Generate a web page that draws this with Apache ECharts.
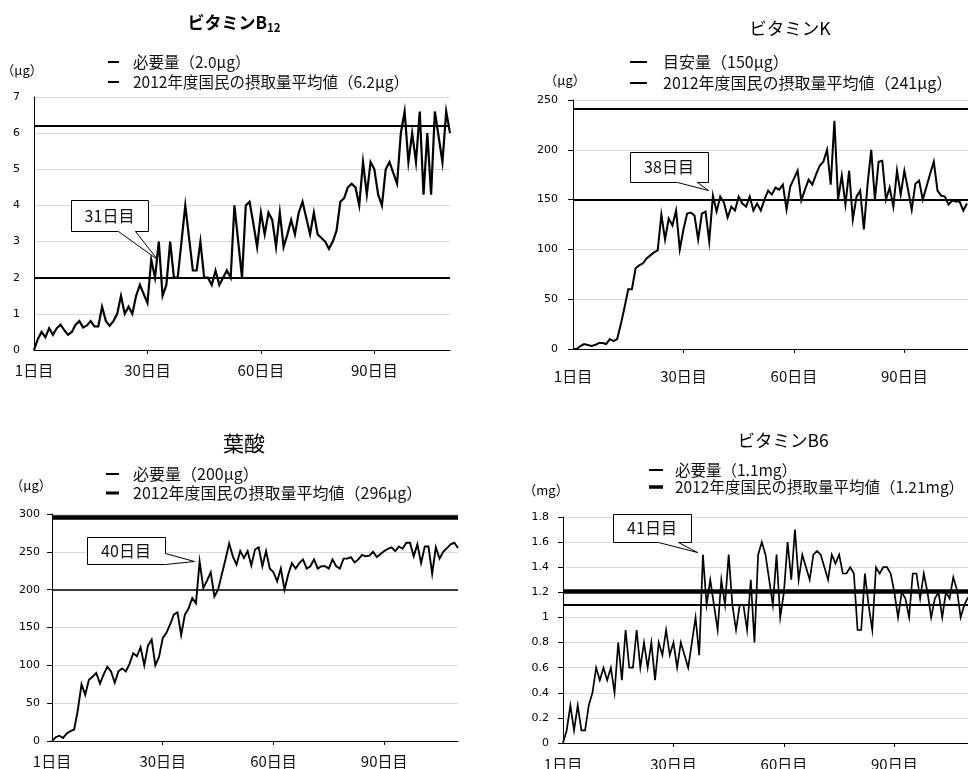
<!DOCTYPE html>
<html>
<head>
<meta charset="utf-8">
<script src="https://cdn.jsdelivr.net/npm/echarts@6/dist/echarts.min.js"></script>
<style>
html,body{margin:0;padding:0;background:#fff;overflow:hidden}
#c{width:968px;height:769px}
</style>
</head>
<body>
<div id="c"></div>
<script>
// ---------- data ----------
const dayTicks = [0, 30, 60, 90];
const dayLabels = ['1日目', '30日目', '60日目', '90日目'];

const b12Values = [0,0.3,0.5,0.35,0.6,0.42,0.6,0.7,0.55,0.42,
 0.5,0.7,0.8,0.62,0.68,0.8,0.65,0.65,1.2,0.8,
 0.67,0.8,1.0,1.5,1.0,1.2,1.0,1.5,1.8,1.55,
 1.3,2.5,2.0,3.0,1.5,1.8,3.0,2.0,2.0,3.0,
 4.0,3.1,2.2,2.2,3.0,2.0,2.0,1.8,2.2,1.8,
 2.0,2.2,2.0,4.0,3.0,2.0,4.0,4.1,3.5,2.85,
 3.8,3.2,3.8,3.6,2.85,3.8,2.85,3.2,3.6,3.2,
 3.8,4.1,3.65,3.2,3.8,3.2,3.1,3.0,2.8,3.0,
 3.3,4.1,4.2,4.5,4.6,4.5,4.0,5.2,4.3,5.2,
 5.0,4.3,4.0,5.0,5.2,4.9,4.6,6.0,6.6,5.2,
 6.0,5.2,6.6,4.3,6.0,4.3,6.6,5.9,5.2,6.6,
 6.0];
const kValues = [0,0,3,5,4,3,4,6,6,5,
 10,8,10,25,42,60,60,81,84,86,
 91,94,97,99,135,110,131,124,139,100,
 120,136,137,134,110,136,138,108,154,138,
 153,147,132,143,139,153,146,143,153,139,
 146,139,150,159,155,162,160,165,140,163,
 171,179,149,160,170,165,175,184,188,200,
 165,229,150,174,145,179,130,153,159,120,
 165,200,150,188,189,150,162,143,179,155,
 179,160,140,166,169,150,163,176,188,159,
 154,153,145,149,148,148,139,146];
const folateValues = [0,5,7,4,10,13,15,41,75,61,
 81,85,90,76,88,98,92,77,92,96,
 92,102,116,112,124,100,126,134,100,111,
 136,143,154,167,170,140,167,175,189,182,
 237,202,212,223,191,200,220,240,261,244,
 233,251,242,251,232,253,256,231,251,228,
 223,211,228,200,220,235,228,235,240,228,
 231,240,228,231,231,228,240,231,228,241,
 241,243,236,240,246,244,245,250,243,247,
 251,254,256,251,257,254,262,262,244,260,
 235,257,257,221,256,241,250,255,260,262,
 255];
const b6Values = [0,0.1,0.3,0.1,0.3,0.1,0.1,0.3,0.4,0.6,
 0.5,0.6,0.5,0.6,0.4,0.8,0.5,0.9,0.6,0.6,
 0.9,0.6,0.8,0.6,0.8,0.5,0.8,0.7,0.9,0.7,
 0.8,0.6,0.8,0.7,0.6,0.8,1.0,0.7,1.5,1.1,
 1.3,1.1,0.9,1.3,1.1,1.5,1.1,0.9,1.1,1.1,
 0.9,1.3,0.8,1.5,1.6,1.5,1.3,1.1,1.5,1.0,
 1.2,1.6,1.3,1.7,1.3,1.5,1.4,1.3,1.5,1.53,
 1.5,1.4,1.3,1.5,1.43,1.5,1.35,1.35,1.4,1.35,
 0.9,0.9,1.35,1.1,0.9,1.4,1.35,1.4,1.4,1.35,
 1.2,1.0,1.2,1.15,1.0,1.35,1.35,1.15,1.35,1.2,
 1.0,1.15,1.2,1.0,1.2,1.15,1.32,1.22,1.0,1.1,
 1.16];

const b12Range = [0, 7, 1];
const kRange = [0, 250, 50];
const folateRange = [0, 300, 50];
const b6Range = [0, 1.8, 0.2];

const b12Refs = [2.0, 6.2];
const kRefs = [150, 241];
const folateRefs = [200, 296];
const b6Refs = [1.1, 1.21];

const b12Legend = ['必要量（2.0μg）', '2012年度国民の摂取量平均値（6.2μg）'];
const kLegend = ['目安量（150μg）', '2012年度国民の摂取量平均値（241μg）'];
const folateLegend = ['必要量（200μg）', '2012年度国民の摂取量平均値（296μg）'];
const b6Legend = ['必要量（1.1mg）', '2012年度国民の摂取量平均値（1.21mg）'];

const titles = ['ビタミンB', 'ビタミンK', '葉酸', 'ビタミンB6'];
const b12Sub = '12';
const units = ['（μg）', '（μg）', '（μg）', '（mg）'];
const callouts = ['31日目', '38日目', '40日目', '41日目'];
const xMax = 110;

// ---------- layout / style ----------
const F = '"Noto Sans CJK JP", "Noto Sans", sans-serif';
const FN = '"DejaVu Sans", sans-serif';

const panels = [
  { values: b12Values, range: b12Range, refs: b12Refs, legend: b12Legend,
    grid: {left: 34, top: 97, width: 416, height: 253},
    lineWidth: 2.2, refWidths: [2, 2], xMargin: 13, yMargin: 14, yTick: false,
    title: {x: 234, y: 23, size: 17}, unit: {x: 22, y: 70},
    leg: {x1: 108, x2: 119, tx: 133, ys: [62, 82], widths: [2, 2], size: 15.5},
    call: {pts: [[71,200],[148,200],[148,231],[135,231],[157,259],[118,231],[71,231]], tx: 109.5, ty: 216} },
  { values: kValues, range: kRange, refs: kRefs, legend: kLegend,
    grid: {left: 573, top: 100, width: 405, height: 249},
    lineWidth: 2, refWidths: [2.2, 2], xMargin: 20, yMargin: 15, yTick: true,
    title: {x: 790, y: 28, size: 17.5}, unit: {x: 565, y: 80},
    leg: {x1: 630, x2: 647, tx: 663, ys: [62, 83], widths: [2, 2], size: 16},
    call: {pts: [[630,152],[708,152],[708,182],[697,182],[708,190],[677,182],[630,182]], tx: 669, ty: 167} },
  { values: folateValues, range: folateRange, refs: folateRefs, legend: folateLegend,
    grid: {left: 52, top: 514, width: 406, height: 227},
    lineWidth: 1.9, refWidths: [1.6, 4.5], xMargin: 13, yMargin: 12, yTick: true,
    title: {x: 244, y: 443, size: 21}, unit: {x: 31, y: 485},
    leg: {x1: 106, x2: 119, tx: 133, ys: [474, 493], widths: [2, 3], size: 16},
    call: {pts: [[87,537],[165,537],[165,553],[194,561],[165,564],[87,564]], tx: 126, ty: 550.5} },
  { values: b6Values, range: b6Range, refs: b6Refs, legend: b6Legend,
    grid: {left: 563, top: 517, width: 405, height: 226},
    lineWidth: 1.7, refWidths: [2, 4.5], xMargin: 14, yMargin: 14, yTick: true,
    title: {x: 783, y: 440, size: 17.5}, unit: {x: 546, y: 490},
    leg: {x1: 649, x2: 663, tx: 675, ys: [470, 487], widths: [2, 3.5], size: 15.5},
    call: {pts: [[613,514],[691,514],[691,542],[678,542],[697,552],[658,542],[613,542]], tx: 652, ty: 528} }
];

const chart = echarts.init(document.getElementById('c'), null, {renderer: 'canvas'});

const grids = [], xAxes = [], yAxes = [], series = [], graphics = [];

panels.forEach((p, i) => {
  grids.push(Object.assign({containLabel: false, outerBoundsMode: 'none'}, p.grid));
  xAxes.push({
    type: 'value', gridIndex: i, min: 0, max: xMax, interval: 30,
    axisLine: {show: true, onZero: false, lineStyle: {color: '#000', width: 1}},
    axisTick: {show: true, inside: false, length: 4, customValues: [30, 60, 90], lineStyle: {color: '#000'}},
    axisLabel: {
      show: true, customValues: dayTicks, margin: p.xMargin,
      formatter: v => { const k = dayTicks.indexOf(v); return k >= 0 ? dayLabels[k] : ''; },
      fontFamily: F, fontSize: 15, color: '#111'
    },
    splitLine: {show: false}
  });
  yAxes.push({
    type: 'value', gridIndex: i, min: p.range[0], max: p.range[1], interval: p.range[2],
    axisLine: {show: true, lineStyle: {color: '#000', width: 1}},
    axisTick: {show: p.yTick, length: 5, lineStyle: {color: '#000'}},
    axisLabel: {margin: p.yMargin, fontFamily: FN, fontSize: 11, color: '#000'},
    splitLine: {show: true, lineStyle: {color: '#d9d9d9', width: 1}}
  });
  series.push({
    type: 'line', xAxisIndex: i, yAxisIndex: i,
    data: p.values.map((v, d) => [d, v]),
    showSymbol: false, symbol: 'none', animation: false, z: 3,
    lineStyle: {color: '#000', width: p.lineWidth, join: 'miter'},
    markLine: {
      silent: true, symbol: ['none', 'none'], animation: false,
      label: {show: false},
      data: p.refs.map((r, k) => ({yAxis: r, lineStyle: {color: '#000', width: p.refWidths[k], type: 'solid'}}))
    }
  });

  // title
  if (i === 0) {
    graphics.push({type: 'text', x: p.title.x, y: p.title.y, z: 50,
      style: {text: '{a|' + titles[0] + '}{b|' + b12Sub + '}', textAlign: 'center', textVerticalAlign: 'middle',
        rich: {a: {fontFamily: F, fontSize: p.title.size, fontWeight: 'bold', fill: '#000'},
               b: {fontFamily: F, fontSize: 11.5, fontWeight: 'bold', fill: '#000', padding: [9, 0, 0, 0]}}}});
  } else {
    graphics.push({type: 'text', x: p.title.x, y: p.title.y, z: 50,
      style: {text: titles[i], textAlign: 'center', textVerticalAlign: 'middle',
        fontFamily: F, fontSize: p.title.size, fill: '#000'}});
  }
  // unit
  graphics.push({type: 'text', x: p.unit.x, y: p.unit.y, z: 50,
    style: {text: units[i], textAlign: 'center', textVerticalAlign: 'middle', fontFamily: F, fontSize: 13, fill: '#000'}});
  // legend
  p.legend.forEach((t, k) => {
    graphics.push({type: 'line', z: 50, shape: {x1: p.leg.x1, y1: p.leg.ys[k], x2: p.leg.x2, y2: p.leg.ys[k]},
      style: {stroke: '#000', lineWidth: p.leg.widths[k]}});
    graphics.push({type: 'text', x: p.leg.tx, y: p.leg.ys[k], z: 50,
      style: {text: t, textAlign: 'left', textVerticalAlign: 'middle', fontFamily: F, fontSize: p.leg.size, fill: '#111'}});
  });
  // callout
  graphics.push({type: 'polygon', z: 60, shape: {points: p.call.pts.map(q => [q[0] + 0.5, q[1] + 0.5])},
    style: {fill: '#fff', stroke: '#000', lineWidth: 1}});
  graphics.push({type: 'text', x: p.call.tx, y: p.call.ty, z: 61,
    style: {text: callouts[i], textAlign: 'center', textVerticalAlign: 'middle', fontFamily: F, fontSize: 16, fill: '#111'}});
});

chart.setOption({
  animation: false,
  backgroundColor: '#fff',
  grid: grids,
  xAxis: xAxes,
  yAxis: yAxes,
  series: series,
  graphic: graphics
});
</script>
</body>
</html>
